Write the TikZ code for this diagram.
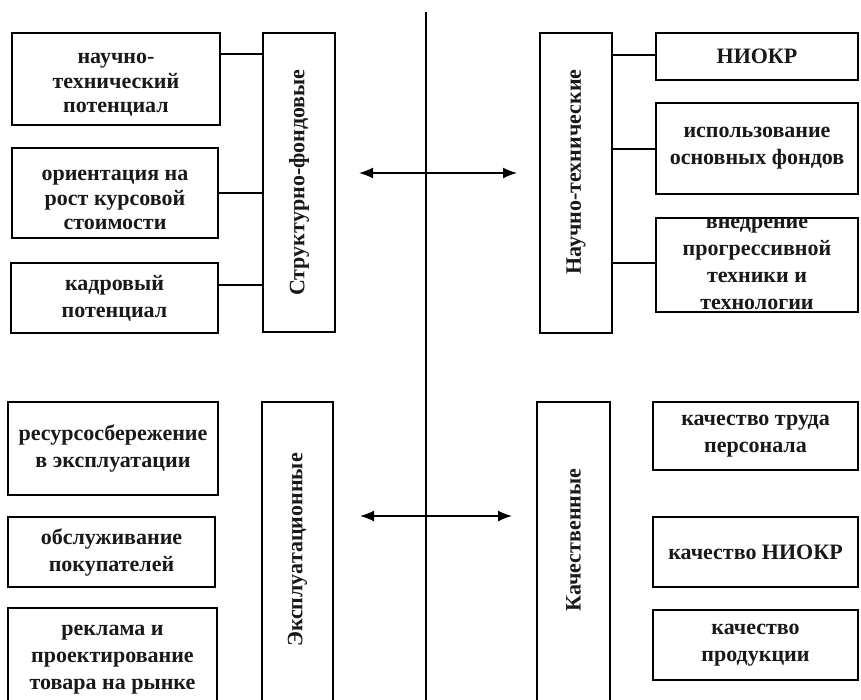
\documentclass[tikz,border=0pt]{standalone}
\usepackage{fontspec}
\setmainfont{Liberation Serif}
\usetikzlibrary{arrows.meta}
\begin{document}
\begin{tikzpicture}[x=1pt,y=-1pt]
\tikzset{
 box/.style={draw, line width=1.6pt, inner sep=0pt, align=center, text=black!90,
   font=\bfseries\fontsize{22}{27}\selectfont},
 plainbox/.style={draw, line width=1.6pt, inner sep=0pt},
 boxtext/.style={inner sep=0pt, align=center, text=black!90, font=\bfseries\fontsize{22}{27}\selectfont},
 tighttext/.style={inner sep=0pt, align=center, text=black!90, font=\bfseries\fontsize{22}{24.5}\selectfont},
 vtext/.style={rotate=90, inner sep=0pt, text=black!90, font=\bfseries\fontsize{22}{26}\selectfont},
 link/.style={line width=1.5pt},
 axisline/.style={line width=1.6pt},
 biarrow/.style={line width=1.6pt, {Latex[length=14pt,width=11pt]}-{Latex[length=14pt,width=11pt]}},
}
\useasboundingbox (0,0) rectangle (861,699);
\fill[white] (0,0) rectangle (861,699);
\clip (0,0) rectangle (861,699);

% upper left
\node[plainbox, minimum width=208pt, minimum height=92pt] (L1) at (116,79) {};
\node[tighttext] (L1t) at (116,85) {научно-\\технический\\потенциал};
\node[plainbox, minimum width=206pt, minimum height=90pt] (L2) at (115,193) {};
\node[tighttext] (L2t) at (115,200) {ориентация на\\рост курсовой\\стоимости};
\node[box, minimum width=207pt, minimum height=70pt] (L3) at (114.5,298) {кадровый\\потенциал};
\node[plainbox, minimum width=72pt, minimum height=299pt] (VL1) at (299,182.5) {};
\node[vtext] (VL1t) at (VL1.center) {Структурно-фондовые};

\draw[link] (L1.east |- 0,54) -- (VL1.west |- 0,54);
\draw[link] (L2.east |- 0,193) -- (VL1.west |- 0,193);
\draw[link] (L3.east |- 0,285) -- (VL1.west |- 0,285);

% upper right
\node[plainbox, minimum width=72pt, minimum height=300pt] (VR1) at (576,183) {};
\node[vtext] (VR1t) at (576,172) {Научно-технические};
\node[box, minimum width=202pt, minimum height=47pt] (R1) at (757,56.5) {НИОКР};
\node[box, minimum width=202pt, minimum height=91pt] (R2) at (757,148.5) {использование\\основных фондов};
\node[plainbox, minimum width=202pt, minimum height=94pt] (R3) at (757,265) {};
\node[boxtext] (R3t) at (757,264) {внедрение\\прогрессивной\\техники и\\технологии};

\draw[link] (VR1.east |- 0,55) -- (R1.west |- 0,55);
\draw[link] (VR1.east |- 0,149) -- (R2.west |- 0,149);
\draw[link] (VR1.east |- 0,263) -- (R3.west |- 0,263);

% lower left
\node[box, minimum width=210pt, minimum height=93pt] (BL1) at (113,448.5) {ресурсосбережение\\в эксплуатации};
\node[box, minimum width=207pt, minimum height=70pt] (BL2) at (111.5,552) {обслуживание\\покупателей};
\node[plainbox, minimum width=209pt, minimum height=94pt] (BL3) at (112.5,655) {};
\node[boxtext] (BL3t) at (112.5,660) {реклама и\\проектирование\\товара на рынке};
\node[plainbox, minimum width=71pt, minimum height=318pt] (VL2) at (297.5,561) {};
\node[vtext] (VL2t) at (297.5,550) {Эксплуатационные};

% lower right
\node[plainbox, minimum width=73pt, minimum height=318pt] (VR2) at (573.5,561) {};
\node[vtext] (VR2t) at (573.5,540) {Качественные};
\node[box, minimum width=205pt, minimum height=68pt] (BR1) at (755.5,436) {качество труда\\персонала};
\node[box, minimum width=205pt, minimum height=70pt] (BR2) at (755.5,552) {качество НИОКР};
\node[box, minimum width=205pt, minimum height=70pt] (BR3) at (755.5,645) {качество\\продукции};

% central axis and arrows
\coordinate (top) at (426,12);
\coordinate (bot) at (426,710);
\draw[axisline] (top) -- (bot);
\coordinate (a1l) at (359,173);
\coordinate (a1r) at (517,173);
\coordinate (a2l) at (360,516);
\coordinate (a2r) at (512,516);
\draw[biarrow] (a1l) -- (a1r);
\draw[biarrow] (a2l) -- (a2r);
\end{tikzpicture}
\end{document}
